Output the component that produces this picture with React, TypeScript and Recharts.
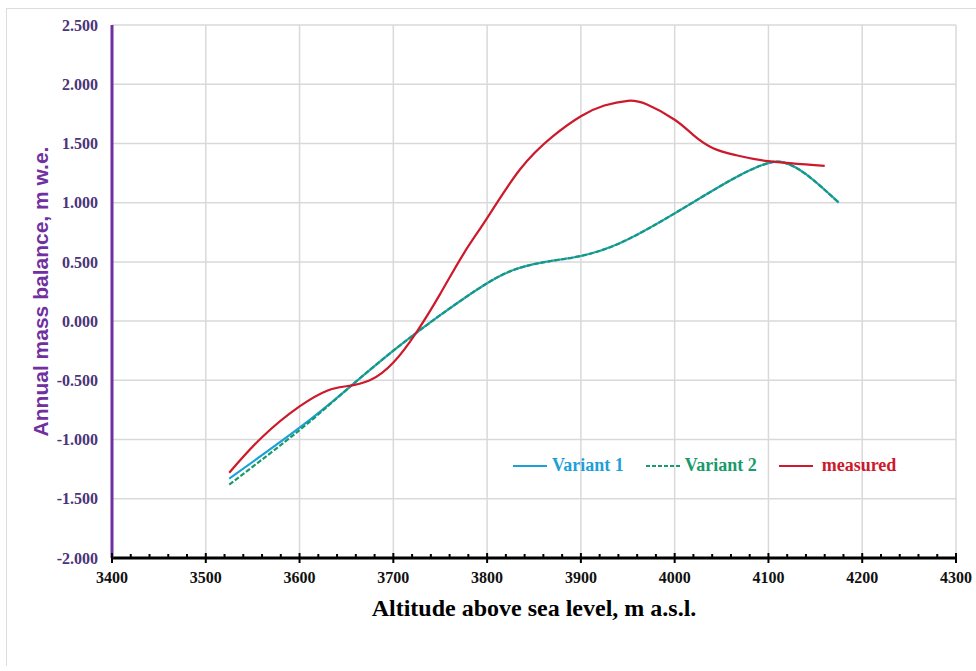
import React from 'react';
import { LineChart, Line, XAxis, YAxis, CartesianGrid, Legend } from 'recharts';

const measuredAlt = [3525, 3560, 3600, 3630, 3650, 3675, 3700, 3725, 3750, 3775, 3800, 3835, 3870, 3900, 3925, 3950, 3970, 4000, 4020, 4041, 4066, 4100, 4160];
const measuredVal = [-1.28, -0.98, -0.72, -0.585, -0.55, -0.5, -0.35, -0.09, 0.23, 0.57, 0.87, 1.28, 1.56, 1.73, 1.82, 1.86, 1.83, 1.7, 1.57, 1.46, 1.4, 1.35, 1.31];

const variantAlt = [3525, 3600, 3650, 3700, 3750, 3800, 3835, 3870, 3900, 3942, 4000, 4062, 4098, 4116, 4140, 4175];
const variant1Val = [-1.33, -0.9, -0.58, -0.25, 0.05, 0.32, 0.45, 0.51, 0.55, 0.66, 0.91, 1.2, 1.33, 1.34, 1.24, 1.0];
const variant2Val = [-1.38, -0.92, -0.58, -0.25, 0.05, 0.32, 0.45, 0.51, 0.55, 0.66, 0.91, 1.2, 1.33, 1.34, 1.24, 1.0];

const majorXTicks = [3400, 3500, 3600, 3700, 3800, 3900, 4000, 4100, 4200, 4300];
const yTicks = [-2, -1.5, -1, -0.5, 0, 0.5, 1, 1.5, 2, 2.5];

const minorXTicks: number[] = [];
for (let i = 0; i < majorXTicks.length - 1; i++) {
  for (let k = 0; k < 5; k++) minorXTicks.push(majorXTicks[i] + k * 20);
}
minorXTicks.push(majorXTicks[majorXTicks.length - 1]);

const toRows = (xs: number[], vs: number[]) => xs.map((alt, i) => ({ alt, v: vs[i] }));
const measured = toRows(measuredAlt, measuredVal);
const variant1 = toRows(variantAlt, variant1Val);
const variant2 = toRows(variantAlt, variant2Val);

const BLUE = '#1f9fd8';
const GREEN = '#179a6c';
const RED = '#cc1a2c';
const PURPLE = '#7030a0';
const SERIF = '"Liberation Serif", "Times New Roman", serif';

const XTick = (props: any) => {
  const { x, y, payload } = props;
  const major = payload.value % 100 === 0;
  return (
    <g>
      <line x1={x} x2={x} y1={major ? y - 5 : y - 4} y2={major ? y + 5 : y} stroke="#000" strokeWidth={2} />
      {major && (
        <text x={x} y={y + 25} textAnchor="middle" fontFamily={SERIF} fontWeight="bold" fontSize={16} fill="#111">
          {payload.value}
        </text>
      )}
    </g>
  );
};

const legendItems = [
  { name: 'Variant 1', color: BLUE, dash: undefined as string | undefined, gap: 5 },
  { name: 'Variant 2', color: GREEN, dash: '4 2', gap: 5 },
  { name: 'measured', color: RED, dash: undefined as string | undefined, gap: 9 },
];

const renderLegend = () => (
  <div style={{ display: 'flex', alignItems: 'center', fontFamily: SERIF, fontWeight: 'bold', fontSize: 18 }}>
    {legendItems.map((it, i) => (
      <div key={it.name} style={{ display: 'flex', alignItems: 'center', marginRight: i < 2 ? 22 : 0 }}>
        <svg width={34} height={4} style={{ marginRight: it.gap }}>
          <line x1={0} x2={34} y1={2} y2={2} stroke={it.color} strokeWidth={2.2} strokeDasharray={it.dash} />
        </svg>
        <span style={{ color: it.color }}>{it.name}</span>
      </div>
    ))}
  </div>
);

export default function App() {
  return (
    <div style={{ position: 'absolute', left: 0, top: 0, width: 976, height: 665, background: '#fff' }}>
      <div style={{ position: 'absolute', left: 6, top: 8, width: 970, height: 657, borderTop: '1px solid #dcdcdc', borderLeft: '1px solid #dcdcdc' }} />
      <LineChart width={976} height={665} margin={{ top: 25, right: 20, bottom: 77, left: 0 }}>
        <CartesianGrid stroke="#d9d9d9" strokeWidth={1.5} verticalValues={majorXTicks} horizontalValues={yTicks} />
        <XAxis
          dataKey="alt"
          type="number"
          domain={[3400, 4300]}
          ticks={minorXTicks}
          interval={0}
          allowDuplicatedCategory={false}
          height={30}
          tickSize={0}
          tickMargin={0}
          tickLine={false}
          axisLine={{ stroke: '#000', strokeWidth: 3 }}
          tick={<XTick />}
          label={{
            content: (p: any) => {
              const vb = p.viewBox;
              return (
                <text x={vb.x + vb.width / 2} y={vb.y + 50} textAnchor="middle" dominantBaseline="central" fontFamily={SERIF} fontWeight="bold" fontSize={24} fill="#000">
                  Altitude above sea level, m a.s.l.
                </text>
              );
            },
          }}
        />
        <YAxis
          type="number"
          domain={[-2, 2.5]}
          ticks={yTicks}
          interval={0}
          width={112}
          tickLine={false}
          tickSize={6}
          tickMargin={8}
          axisLine={{ stroke: PURPLE, strokeWidth: 3 }}
          tickFormatter={(v: number) => v.toFixed(3)}
          tick={{ fontFamily: SERIF, fontWeight: 'bold', fontSize: 16, fill: '#4b3478' }}
          label={{
            content: (p: any) => {
              const vb = p.viewBox;
              const cx = vb.x + 40;
              const cy = vb.y + vb.height / 2;
              return (
                <text x={cx} y={cy} transform={`rotate(-90 ${cx} ${cy})`} textAnchor="middle" dominantBaseline="central" fontFamily='"Liberation Sans", Arial, sans-serif' fontWeight="bold" fontSize={21} fill={PURPLE}>
                  Annual mass balance, m w.e.
                </text>
              );
            },
          }}
        />
        <Legend
          layout="horizontal"
          verticalAlign="middle"
          align="center"
          content={renderLegend}
          wrapperStyle={{ left: 513, top: 455, width: 420 }}
        />
        <Line data={variant1} dataKey="v" name="Variant 1" type="natural" stroke={BLUE} strokeWidth={2.2} dot={false} isAnimationActive={false} />
        <Line data={variant2} dataKey="v" name="Variant 2" type="natural" stroke={GREEN} strokeWidth={2.2} strokeDasharray="5 2" dot={false} isAnimationActive={false} />
        <Line data={measured} dataKey="v" name="measured" type="natural" stroke={RED} strokeWidth={2.2} dot={false} isAnimationActive={false} />
      </LineChart>
    </div>
  );
}
